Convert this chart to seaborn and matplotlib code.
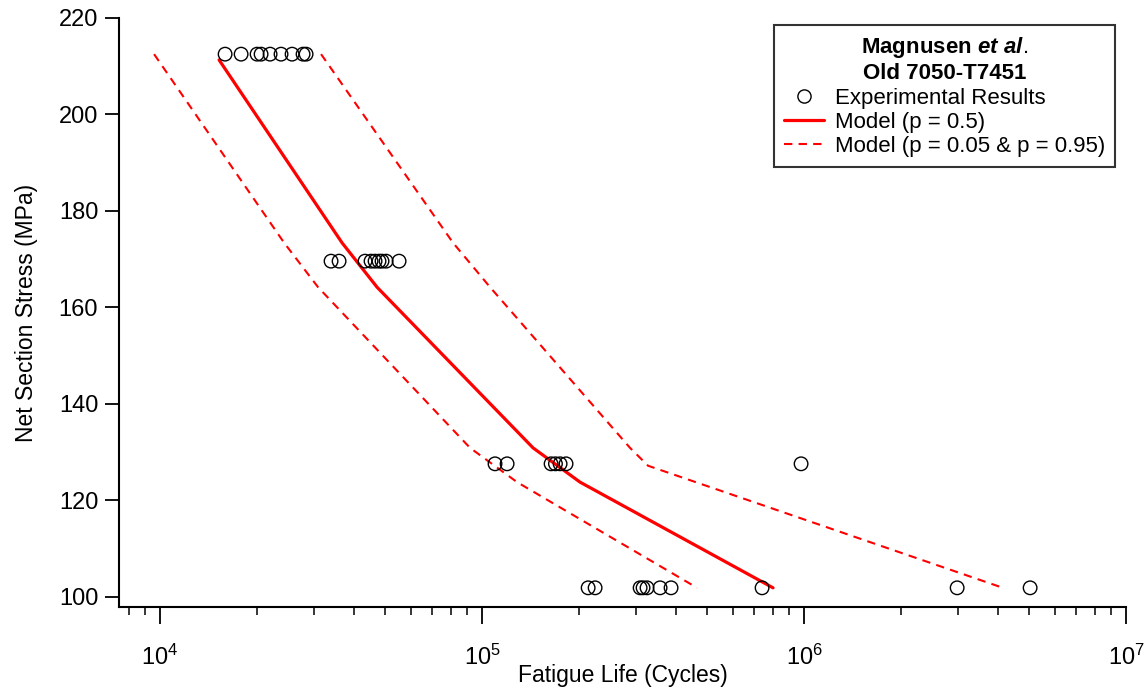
import matplotlib
matplotlib.use("Agg")
import matplotlib.pyplot as plt
from matplotlib.lines import Line2D
import seaborn as sns
import pandas as pd

# experimental results (cycles, MPa)
exp_life = [15920, 17850, 20010, 20590, 21960, 23750, 25700, 27800, 28410,
            33960, 35970, 43300, 45200, 46520, 47860, 48900, 50350, 55240,
            109700, 119600, 163800, 169000, 174700, 182300, 978800,
            213500, 224400, 309600, 316200, 325300, 357100, 386300, 740600, 2988000, 5035000]
exp_stress = [212.5] * 9 + [169.6] * 9 + [127.6] * 7 + [101.9] * 10

# model curves
med_life = [15250, 36740, 47190, 144000, 201500, 801000]
med_stress = [211.3, 173.4, 164.2, 130.9, 123.8, 101.9]
low_life = [9580, 24280, 30950, 91770, 128450, 465200]
low_stress = [212.5, 173.4, 164.2, 130.9, 123.8, 101.9]
up_life = [31620, 81250, 105900, 288100, 327700, 4062000]
up_stress = [212.5, 173.4, 164.2, 130.9, 127.2, 102.1]

sns.set_theme(style="ticks")
plt.rcParams["font.family"] = ["Liberation Sans", "DejaVu Sans"]
plt.rcParams["text.color"] = "black"
plt.rcParams["mathtext.fontset"] = "custom"
plt.rcParams["mathtext.rm"] = "Liberation Sans"
plt.rcParams["mathtext.bf"] = "Liberation Sans:bold"
plt.rcParams["mathtext.it"] = "Liberation Sans:italic:bold"

fig = plt.figure(figsize=(11.48, 6.91), dpi=100)
ax = fig.add_axes([0.1037, 0.1216, 0.8772, 0.8524])

exp = pd.DataFrame({"life": exp_life, "stress": exp_stress})
sns.scatterplot(data=exp, x="life", y="stress", marker="o", s=95,
                facecolor="none", edgecolor="black", linewidth=1.0, ax=ax, zorder=3)
sns.lineplot(x=med_life, y=med_stress, sort=False, estimator=None, color="red", lw=2.3, ax=ax)
for lf, st in [(low_life, low_stress), (up_life, up_stress)]:
    sns.lineplot(x=lf, y=st, sort=False, estimator=None, color="red", lw=1.5,
                 linestyle=(0, (4, 3)), ax=ax)

ax.set_xscale("log")
ax.set_xlim(7457, 1.0e7)
ax.set_ylim(97.93, 220)
ax.set_yticks(range(100, 221, 20))
for s in ["top", "right"]:
    ax.spines[s].set_visible(False)
for s in ["left", "bottom"]:
    ax.spines[s].set_color("black")
    ax.spines[s].set_linewidth(1.5)
ax.tick_params(axis="both", which="major", direction="out", length=10, width=1.3,
               color="black", labelsize=17, labelcolor="black", bottom=True, left=True)
ax.tick_params(axis="x", which="major", length=12, pad=15)
ax.tick_params(axis="x", which="minor", direction="out", length=6, width=1.1,
               color="black", bottom=True)
ax.tick_params(axis="y", which="major", pad=5)
ax.set_xlabel("Fatigue Life (Cycles)", fontsize=16.5, color="black", labelpad=-4)
ax.set_ylabel("Net Section Stress (MPa)", fontsize=16.5, color="black", labelpad=15)

handles = [
    Line2D([], [], marker="o", ls="none", mfc="none", mec="black", ms=9.5, mew=1.0),
    Line2D([], [], color="red", lw=2.3),
    Line2D([], [], color="red", lw=1.5, ls=(0, (4, 3))),
]
labels = ["Experimental Results", "Model (p = 0.5)", "Model (p = 0.05 & p = 0.95)"]
leg = ax.legend(handles, labels, loc="upper right",
                bbox_to_anchor=(1115 / 1148, 1 - 25 / 691), bbox_transform=fig.transFigure,
                borderaxespad=0, fontsize=16, frameon=True, fancybox=False,
                title="Magnusen $\\mathit{et\\ al.}$\nOld 7050-T7451",
                title_fontproperties={"weight": "bold", "size": 16},
                handlelength=1.8, handletextpad=0.5, labelspacing=0.15, borderpad=0.45,
                labelcolor="black")
leg.get_frame().set_edgecolor("black")
leg.get_frame().set_linewidth(1.5)
leg.get_title().set_multialignment("center")
leg.get_title().set_color("black")

fig.savefig("out.png", dpi=100)
